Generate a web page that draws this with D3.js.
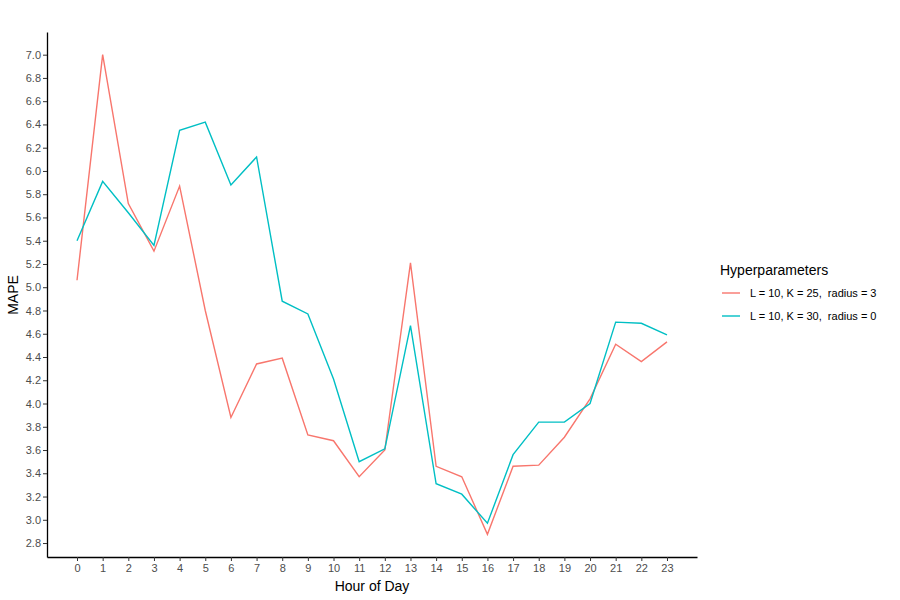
<!DOCTYPE html>
<html><head><meta charset="utf-8">
<script src="https://cdn.jsdelivr.net/npm/d3@7"></script>
<style>body{margin:0;background:#fff;font-family:"Liberation Sans",Arial,sans-serif}</style>
</head><body><svg id="c" width="900" height="600"></svg>
<script>
const hours = d3.range(0,24);
const seriesNames = ["L = 10, K = 25,  radius = 3","L = 10, K = 30,  radius = 0"];
const seriesColors = ["#F8766D","#00BFC4"];
const mapeA = [5.06,7.00,5.72,5.31,5.87,4.80,3.88,4.34,4.39,3.73,3.68,3.37,3.60,5.21,3.46,3.37,2.875,3.46,3.47,3.71,4.04,4.51,4.36,4.53];
const mapeB = [5.40,5.91,5.64,5.36,6.35,6.42,5.88,6.12,4.88,4.77,4.21,3.50,3.61,4.67,3.31,3.22,2.97,3.56,3.84,3.84,4.00,4.70,4.69,4.59];
const yTicks = d3.range(2.8,7.01,0.2).map(v=>+v.toFixed(1));

const svg = d3.select("#c");
const x = d3.scaleLinear().domain([-1.17,24.17]).range([47,697]);
const y = d3.scaleLinear().domain([2.68,7.195]).range([557,32]);

const gx = svg.append("g").attr("transform","translate(0,557)")
  .call(d3.axisBottom(x).tickValues(hours).tickFormat(d3.format("d")).tickSize(4).tickSizeOuter(0));
const gy = svg.append("g").attr("transform","translate(47,0)")
  .call(d3.axisLeft(y).tickValues(yTicks).tickFormat(d3.format(".1f")).tickSize(4).tickSizeOuter(0));
[gx,gy].forEach(g=>{
  g.select(".domain").attr("stroke","#000").attr("stroke-width",1.3);
  g.selectAll(".tick line").attr("stroke","#333").attr("stroke-width",1);
  g.selectAll(".tick text").attr("fill","#4d4d4d").style("font-size","11px").style("font-family","Liberation Sans, Arial, sans-serif");
});
gy.selectAll(".tick text").attr("x",-6);
gx.selectAll(".tick text").attr("y",7);

const line = d3.line().x((d,i)=>x(hours[i])).y(d=>y(d));
[mapeA,mapeB].forEach((s,k)=>{
  svg.append("path").datum(s).attr("d",line).attr("fill","none")
    .attr("stroke",seriesColors[k]).attr("stroke-width",1.4).attr("stroke-linejoin","miter");
});

svg.append("text").attr("x",372).attr("y",591).attr("text-anchor","middle")
  .style("font-size","14px").attr("fill","#000").text("Hour of Day");
svg.append("text").attr("transform","translate(18,295) rotate(-90)").attr("text-anchor","middle")
  .style("font-size","14px").attr("fill","#000").text("MAPE");

const lg = svg.append("g");
lg.append("text").attr("x",720).attr("y",275).style("font-size","14px").text("Hyperparameters");
seriesNames.forEach((n,k)=>{
  const yy = 293 + k*23;
  lg.append("line").attr("x1",722).attr("x2",740).attr("y1",yy).attr("y2",yy)
    .attr("stroke",seriesColors[k]).attr("stroke-width",1.4);
  lg.append("text").attr("x",750).attr("y",yy+4).style("font-size","11px")
    .style("white-space","pre").attr("xml:space","preserve").attr("fill","#000").text(n);
});
</script></body></html>
